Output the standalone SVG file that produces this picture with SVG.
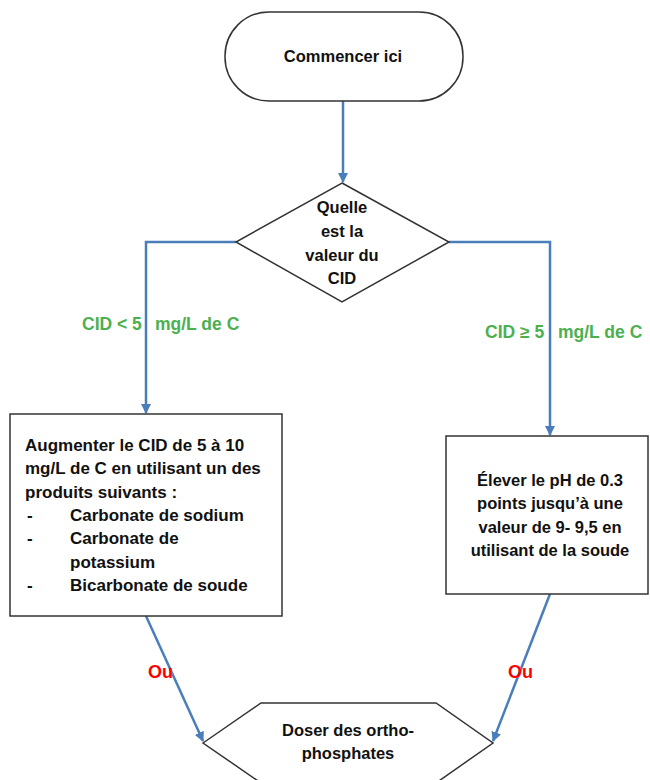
<svg xmlns="http://www.w3.org/2000/svg" width="650" height="780" viewBox="0 0 650 780">
<defs>
<marker id="arr" viewBox="0 0 10 10" refX="9" refY="5" markerWidth="4" markerHeight="4" orient="auto" markerUnits="strokeWidth">
<path d="M0,0 L10,5 L0,10 z" fill="#4a7ebb"/>
</marker>
<style>
.shape{fill:#fff;stroke:#333;stroke-width:1.5}
.conn{fill:none;stroke:#4a7ebb;stroke-width:2.5;marker-end:url(#arr)}
text{font-family:"Liberation Sans",Arial,sans-serif;font-weight:bold;font-size:16.5px;fill:#111}
.c{text-anchor:middle}
.l{font-size:17px}
.g{fill:#4caf50;font-size:17.5px}
.r{fill:#ff0000;font-size:18px}
</style>
</defs>
<rect width="650" height="780" fill="#fff"/>
<g id="connectors">
<path class="conn" d="M343,101 L343,182"/>
<path class="conn" d="M236,242 L146,242 L146,413"/>
<path class="conn" d="M449,242 L550,242 L550,435"/>
<path class="conn" d="M146,616 L203,741"/>
<path class="conn" d="M550,594 L493,741"/>
</g>
<g id="labels">
<text x="82" y="330" class="g">CID &lt; 5</text>
<text x="155" y="330" class="g">mg/L de C</text>
<text x="485" y="338" class="g">CID ≥ 5</text>
<text x="558" y="338" class="g">mg/L de C</text>
<text x="148" y="678" class="r">Ou</text>
<text x="508" y="678" class="r">Ou</text>
</g>
<g id="start">
<rect class="shape" x="225" y="12" width="238" height="89" rx="44" ry="44"/>
<text x="343" y="62" class="c">Commencer ici</text>
</g>
<g id="decision">
<polygon class="shape" points="342,183 449,242 342,302 236,242"/>
<text x="342" y="213" class="c">Quelle</text>
<text x="342" y="237" class="c">est la</text>
<text x="342" y="261" class="c">valeur du</text>
<text x="342" y="284" class="c">CID</text>
</g>
<g id="left-box">
<rect class="shape" x="10" y="414" width="272" height="202"/>
<text x="25" y="451" class="l">Augmenter le CID de 5 à 10</text>
<text x="25" y="474" class="l">mg/L de C en utilisant un des</text>
<text x="25" y="498" class="l">produits suivants :</text>
<text x="27" y="521" class="l">-</text><text x="70" y="521" class="l">Carbonate de sodium</text>
<text x="27" y="544" class="l">-</text><text x="70" y="544" class="l">Carbonate de</text>
<text x="70" y="568" class="l">potassium</text>
<text x="27" y="591" class="l">-</text><text x="70" y="591" class="l">Bicarbonate de soude</text>
</g>
<g id="right-box">
<rect class="shape" x="446" y="436" width="202" height="158"/>
<text x="550" y="486" class="c">Élever le pH de 0.3</text>
<text x="550" y="509" class="c">points jusqu’à une</text>
<text x="550" y="533" class="c">valeur de 9- 9,5 en</text>
<text x="550" y="556" class="c">utilisant de la soude</text>
</g>
<g id="end">
<polygon class="shape" points="203,743 261,703 436,703 493,743 436,783 261,783"/>
<text x="348" y="736" class="c">Doser des ortho-</text>
<text x="348" y="759" class="c">phosphates</text>
</g>
</svg>
